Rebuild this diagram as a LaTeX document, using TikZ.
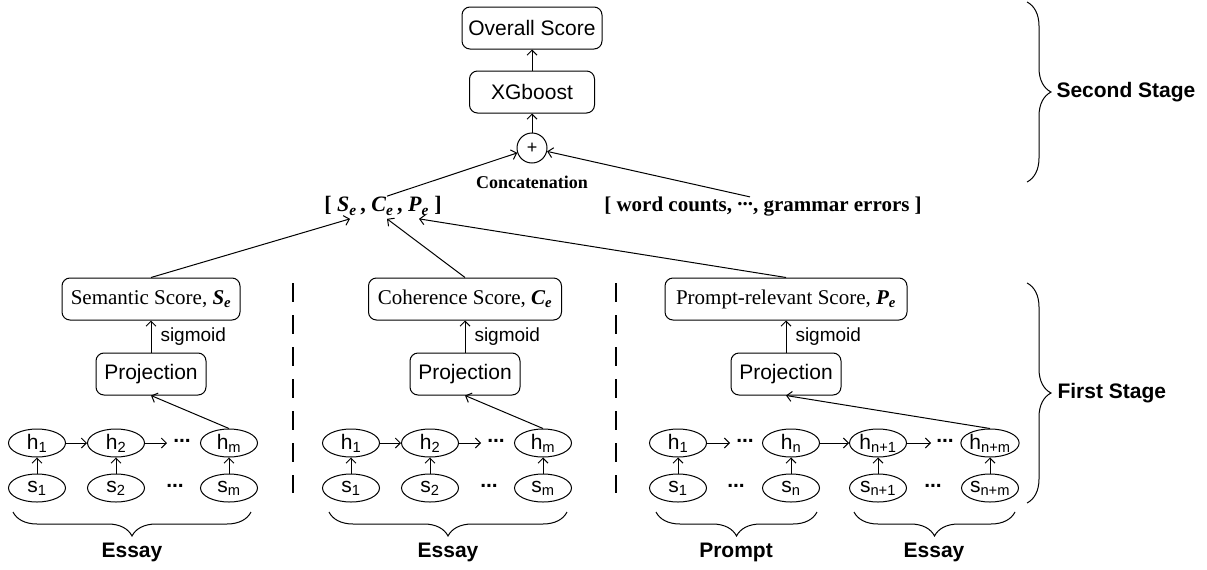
\documentclass[tikz,border=0pt]{standalone}
\usepackage{fontspec}
\setmainfont{Liberation Serif}
\newfontfamily\arialf{Liberation Sans}
\usetikzlibrary{arrows.meta,decorations.pathreplacing,calc,shapes.geometric}
\begin{document}
\begin{tikzpicture}[x=1pt,y=-1pt,line width=1pt,
  every node/.style={inner sep=0pt},
  box/.style={draw, rounded corners=8pt, line width=1pt, minimum height=42pt, font=\arialf\fontsize{21}{25}\selectfont},
  sbox/.style={box, font=\fontsize{21}{25}\selectfont},
  ell/.style={draw, ellipse, line width=1pt, minimum width=57pt, minimum height=28pt, font=\arialf\fontsize{21}{25}\selectfont},
  dots/.style={font=\arialf\bfseries\fontsize{21}{25}\selectfont},
  arr/.style={line width=1pt, -{Straight Barb[length=5pt,width=10pt]}},
  siglabel/.style={anchor=west, font=\arialf\fontsize{19}{22}\selectfont},
  lbl/.style={font=\arialf\bfseries\fontsize{21}{25}\selectfont},
  bracestyle/.style={decorate, decoration={brace, amplitude=24pt}, line width=1pt},
  dashsep/.style={line width=2.3pt, dash pattern=on 19pt off 13pt}
]
\useasboundingbox (0,0) rectangle (1207,570);

% ---- Second stage ----
\node[box, minimum width=140pt] (overall) at (532,28) {Overall Score};
\node[box, minimum width=125pt] (xgb) at (532,92) {XGboost};
\node[draw, circle, minimum size=30pt, font=\arialf\fontsize{18}{20}\selectfont] (plus) at (532,148) {+};
\node[font=\bfseries\fontsize{18}{20}\selectfont] (concat) at (532,182) {Concatenation};
\node[font=\bfseries\fontsize{22}{26}\selectfont] (scp) at (383,206)
  {[ \textit{S\textsubscript{e}}\,, \textit{C\textsubscript{e}}\,, \textit{P\textsubscript{e}} ]};
\node[font=\bfseries\fontsize{21}{25}\selectfont] (wc) at (763,207)
  {[ word counts, \raisebox{.3em}{...}, grammar errors ]};

\draw[arr] (xgb.north) -- (overall.south);
\draw[arr] (plus.north) -- (xgb.south);
\draw[arr] ([xshift=4pt]scp.north) -- (plus);
\draw[arr] ([xshift=-13pt]wc.north) -- (plus);

\coordinate (tS) at ($(scp.south)+(-33,3)$);
\coordinate (tC) at ($(scp.south)+(4,3)$);
\coordinate (tP) at ($(scp.south)+(36,3)$);

% ---- score boxes ----
\node[sbox, minimum width=178pt] (sem) at (151,299) {Semantic Score, \textbf{\textit{S\textsubscript{e}}}};
\node[sbox, minimum width=193pt] (coh) at (465,299) {Coherence Score, \textbf{\textit{C\textsubscript{e}}}};
\node[sbox, minimum width=242pt] (pro) at (786,299) {Prompt-relevant Score, \textbf{\textit{P\textsubscript{e}}}};

\draw[arr] (sem.north) -- (tS);
\draw[arr] (coh.north) -- (tC);
\draw[arr] (pro.north) -- (tP);

\node[box, minimum width=110pt] (p1) at (151,374) {Projection};
\node[box, minimum width=110pt] (p2) at (465,374) {Projection};
\node[box, minimum width=110pt] (p3) at (786,374) {Projection};

\draw[arr] (p1.north) -- (sem.south);
\draw[arr] (p2.north) -- (coh.south);
\draw[arr] (p3.north) -- (pro.south);
\node[siglabel] (sig1) at (160,337) {sigmoid};
\node[siglabel] (sig2) at (474,337) {sigmoid};
\node[siglabel] (sig3) at (795,337) {sigmoid};

% ---- section 1 ----
\node[ell] (ah1) at (37,443) {h\textsubscript{1}};
\node[ell] (ah2) at (116,443) {h\textsubscript{2}};
\node[dots] (ahd) at (182,443) {\raisebox{.2em}{...}};
\node[ell] (ahm) at (229,443) {h\textsubscript{m}};
\node[ell] (as1) at (37,488) {s\textsubscript{1}};
\node[ell] (as2) at (116,488) {s\textsubscript{2}};
\node[dots] (asd) at (175,488) {\raisebox{.2em}{...}};
\node[ell] (asm) at (229,488) {s\textsubscript{m}};
\coordinate (ae) at (167,443);
\draw[arr] (ah1) -- (ah2);
\draw[arr] (ah2) -- (ae);
\draw[arr] (as1) -- (ah1);
\draw[arr] (as2) -- (ah2);
\draw[arr] (asm) -- (ahm);
\draw[arr] (ahm.north) -- (p1.south);
\draw[bracestyle, decoration={mirror}] (13,512) -- (251,512);
\node[lbl] (ess1) at (132,552) {Essay};

\draw[dashsep] (293,283) -- (293,493);

% ---- section 2 ----
\node[ell] (bh1) at (351,443) {h\textsubscript{1}};
\node[ell] (bh2) at (430,443) {h\textsubscript{2}};
\node[dots] (bhd) at (496,443) {\raisebox{.2em}{...}};
\node[ell] (bhm) at (543,443) {h\textsubscript{m}};
\node[ell] (bs1) at (351,488) {s\textsubscript{1}};
\node[ell] (bs2) at (430,488) {s\textsubscript{2}};
\node[dots] (bsd) at (489,488) {\raisebox{.2em}{...}};
\node[ell] (bsm) at (543,488) {s\textsubscript{m}};
\coordinate (be) at (481,443);
\draw[arr] (bh1) -- (bh2);
\draw[arr] (bh2) -- (be);
\draw[arr] (bs1) -- (bh1);
\draw[arr] (bs2) -- (bh2);
\draw[arr] (bsm) -- (bhm);
\draw[arr] (bhm.north) -- (p2.south);
\draw[bracestyle, decoration={mirror}] (329,512) -- (567,512);
\node[lbl] (ess2) at (448,552) {Essay};

\draw[dashsep] (616,283) -- (616,493);

% ---- section 3 ----
\node[ell] (ch1) at (678,443) {h\textsubscript{1}};
\node[dots] (chd1) at (745,443) {\raisebox{.2em}{...}};
\node[ell] (chn) at (791,443) {h\textsubscript{n}};
\node[ell] (chn1) at (878,443) {h\textsubscript{n+1}};
\node[dots] (chd2) at (945,443) {\raisebox{.2em}{...}};
\node[ell] (chnm) at (990,443) {h\textsubscript{n+m}};
\node[ell] (cs1) at (678,488) {s\textsubscript{1}};
\node[dots] (csd1) at (736,488) {\raisebox{.2em}{...}};
\node[ell] (csn) at (791,488) {s\textsubscript{n}};
\node[ell] (csn1) at (878,488) {s\textsubscript{n+1}};
\node[dots] (csd2) at (933,488) {\raisebox{.2em}{...}};
\node[ell] (csnm) at (990,488) {s\textsubscript{n+m}};
\coordinate (ce1) at (730,443);
\coordinate (ce2) at (931,443);
\draw[arr] (ch1) -- (ce1);
\draw[arr] (chn) -- (chn1);
\draw[arr] (chn1) -- (ce2);
\draw[arr] (cs1) -- (ch1);
\draw[arr] (csn) -- (chn);
\draw[arr] (csn1) -- (chn1);
\draw[arr] (csnm) -- (chnm);
\draw[arr] (chnm.north) -- (p3.south);
\draw[bracestyle, decoration={mirror}] (656,512) -- (817,512);
\node[lbl] (prm) at (736,552) {Prompt};
\draw[bracestyle, decoration={mirror}] (854,512) -- (1015,512);
\node[lbl] (ess3) at (934,552) {Essay};

% ---- stage braces ----
\draw[bracestyle] (1027,2) -- (1027,182);
\node[lbl, anchor=west] (st2) at (1056,92) {Second Stage};
\draw[bracestyle] (1027,283) -- (1027,503);
\node[lbl, anchor=west] (st1) at (1057,393) {First Stage};
\end{tikzpicture}
\end{document}
